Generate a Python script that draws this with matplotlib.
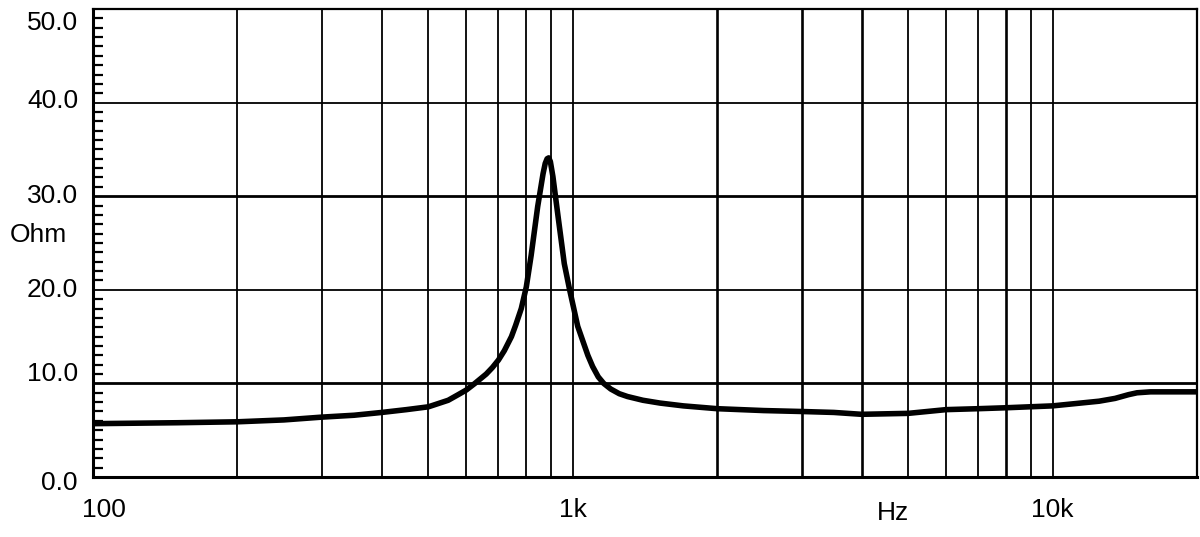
import matplotlib
matplotlib.use("Agg")
import matplotlib.pyplot as plt
import matplotlib.transforms as mtransforms
from matplotlib.ticker import MultipleLocator, NullLocator

plt.rcParams["font.family"] = ["Liberation Sans", "DejaVu Sans"]

# impedance curve
freq_hz = [100, 150, 200, 250, 300, 350, 400, 450, 500, 550, 577, 600, 625, 660,
           680, 700, 720, 745, 760, 781, 800, 819, 845, 867, 876, 884, 891, 898,
           909, 932, 960, 985, 1024, 1050, 1075, 1100, 1130, 1160, 1200, 1250,
           1300, 1400, 1520, 1700, 2000, 2500, 3000, 3500, 4000, 5000, 6000, 7000,
           8000, 10000, 12500, 13500, 14400, 15000, 16000, 20000]
impedance_ohm = [5.7, 5.8, 5.9, 6.1, 6.4, 6.6, 6.9, 7.2, 7.5, 8.2, 8.8, 9.3, 10.0, 11.0,
                 11.7, 12.5, 13.5, 15.0, 16.2, 18.0, 20.3, 23.7, 28.9, 32.4, 33.5, 34.0, 34.1, 33.7,
                 32.1, 27.8, 22.8, 20.0, 16.1, 14.5, 13.0, 11.8, 10.7, 10.0, 9.4, 8.9,
                 8.6, 8.2, 7.9, 7.6, 7.3, 7.1, 7.0, 6.9, 6.7, 6.8, 7.2, 7.3,
                 7.4, 7.6, 8.1, 8.4, 8.8, 9.0, 9.1, 9.1]

grid_x = [200, 300, 400, 500, 600, 700, 800, 900,
          1000, 2000, 3000, 4000, 5000, 6000, 7000, 8000, 9000, 10000]
grid_x_heavy = [2000, 3000, 4000, 8000]
grid_y = [10, 20, 30, 40]
grid_y_heavy = [10, 30]
y_ticks = [0, 10, 20, 30, 40, 50]
y_label_drop = [6, -9, 0, 0, -2, 14]   # px the y labels sit below their tick, as in the original
x_ticks = [100, 1000, 10000]
x_tick_labels = ["100", "1k", "10k"]
x_label_shift = [11, 0, 0]             # px the x labels sit right of their tick

FS = 19

fig = plt.figure(figsize=(12, 5.37), dpi=100)
ax = fig.add_axes([0.0775, 0.1117, 0.92, 0.8715])

ax.set_xscale("log")
ax.set_xlim(100, 20000)
ax.set_ylim(0, 50)

for gx in grid_x:
    ax.axvline(gx, color="black", lw=1.9 if gx in grid_x_heavy else 1.3, zorder=1)
for gy in grid_y:
    ax.axhline(gy, color="black", lw=2.0 if gy in grid_y_heavy else 1.3, zorder=1)

ax.plot(freq_hz, impedance_ohm, color="black", lw=4.0, solid_capstyle="round",
        solid_joinstyle="round", zorder=3)

# axes frame
for side in ("left", "bottom"):
    ax.spines[side].set_linewidth(2.2)
for side in ("top", "right"):
    ax.spines[side].set_linewidth(1.6)

# y axis: inward minor ticks every 1 Ohm, labels drawn by hand so they can be nudged
ax.set_yticks(y_ticks)
ax.set_yticklabels([])
ax.yaxis.set_minor_locator(MultipleLocator(1))
ax.tick_params(axis="y", which="major", direction="in", length=0)
ax.tick_params(axis="y", which="minor", direction="in", length=7, width=1.6)
ylab_tr = ax.get_yaxis_transform()
for v, dy in zip(y_ticks, y_label_drop):
    tr = mtransforms.offset_copy(ylab_tr, fig=fig, x=-15, y=-dy, units="dots")
    ax.text(0, v, f"{v:.1f}", transform=tr, ha="right", va="center", fontsize=FS)

# x axis: labels only, also drawn by hand
ax.xaxis.set_minor_locator(NullLocator())
ax.set_xticks([])
xlab_tr = ax.get_xaxis_transform()
for v, lab, dx in zip(x_ticks, x_tick_labels, x_label_shift):
    tr = mtransforms.offset_copy(xlab_tr, fig=fig, x=dx, y=-33, units="dots")
    ax.text(v, 0, lab, transform=tr, ha="center", va="center", fontsize=FS)

fig.text(0.008, 0.563, "Ohm", fontsize=FS, ha="left", va="center")
fig.text(0.744, 0.045, "Hz", fontsize=FS, ha="center", va="center")

fig.savefig("out.png", dpi=100, facecolor="white")
